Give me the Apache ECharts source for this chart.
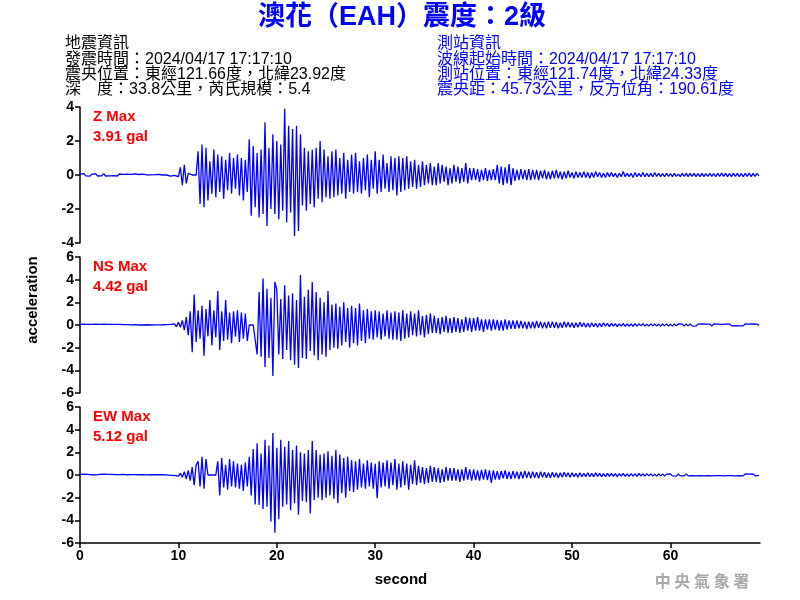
<!DOCTYPE html>
<html>
<head>
<meta charset="utf-8">
<script src="https://cdn.jsdelivr.net/npm/echarts@6/dist/echarts.min.js"></script>
<style>html,body{margin:0;padding:0;background:#fff}#c{width:800px;height:600px}</style>
</head>
<body>
<div id="c"></div>
<script>
// sample spacing (seconds)
const dt = 0.2;
const xTicks = [0, 10, 20, 30, 40, 50, 60];
const zTicks = [-4, -2, 0, 2, 4];
const hTicks = [-6, -4, -2, 0, 2, 4, 6];
const panelNames = ['Z Max', 'NS Max', 'EW Max'];
const panelMax = ['3.91 gal', '4.42 gal', '5.12 gal'];

const zValues = [
0.05,-0.06,0.08,-0.05,0.06,-0.07,0.05,-0.04,0.07,-0.06,
0.05,-0.05,0.08,-0.06,0.04,-0.05,0.06,-0.04,0.05,-0.06,
0.06,-0.05,0.04,-0.06,0.05,-0.03,0.04,-0.05,0.06,-0.04,
0.03,-0.04,0.05,-0.02,0.01,0,0.01,-0.01,0.02,0,
0.04,-0.03,0,0.01,0,0.05,-0.06,0.04,-0.02,0.06,
-0.1,0.45,-0.6,0.6,-0.5,0.1,0,0,0,0,
1.4,-1.7,1.8,-1.9,1.6,-1.5,0.8,-1.1,1.5,-1.3,
1.2,-1.0,1.1,-1.4,0.9,-0.9,1.3,-1.1,1.0,-0.8,
1.2,-1.2,1.0,-1.5,0.9,-1.0,2.1,-2.4,1.7,-1.9,
1.3,-2.5,1.5,-2.3,3.1,-3.0,1.6,-2.0,2.4,-2.3,
2.0,-2.6,1.8,-2.1,3.9,-2.8,2.9,-2.2,2.7,-3.6,
2.9,-3.3,2.4,-1.8,1.6,-2.1,1.4,-1.7,1.5,-1.9,
1.6,-1.4,2.0,-1.6,1.5,-1.3,1.1,-1.4,1.4,-1.3,
1.5,-1.2,1.0,-1.1,1.3,-1.4,0.9,-1.0,1.2,-1.1,
1.3,-1.0,0.8,-1.1,1.0,-0.9,1.2,-1.3,0.9,-0.8,
1.4,-1.1,0.9,-1.0,1.2,-0.8,0.7,-1.0,1.1,-0.9,
1.0,-1.2,1.1,-1.0,1.0,-0.9,1.1,-0.8,0.8,-0.7,
0.9,-0.8,0.6,-0.7,0.8,-0.6,0.6,-0.5,0.7,-0.6,
0.5,-0.6,0.7,-0.5,0.6,-0.4,0.5,-0.6,0.4,-0.5,
0.6,-0.4,0.5,-0.5,0.4,-0.4,0.7,-0.5,0.4,-0.3,
0.4,-0.3,0.35,-0.4,0.3,-0.3,0.4,-0.35,0.3,-0.3,
0.35,-0.3,0.6,-0.5,0.5,-0.6,0.45,-0.5,0.65,-0.6,
0.4,-0.35,0.3,-0.3,0.35,-0.25,0.3,-0.3,0.35,-0.3,
0.3,-0.25,0.3,-0.3,0.25,-0.2,0.3,-0.25,0.2,-0.25,
0.25,-0.2,0.3,-0.2,0.2,-0.25,0.2,-0.2,0.25,-0.15,
0.15,-0.2,0.2,-0.15,0.15,-0.15,0.2,-0.15,0.15,-0.2,
0.15,-0.15,0.2,-0.1,0.15,-0.15,0.1,-0.15,0.15,-0.1,
0.15,-0.1,0.1,-0.15,0.1,-0.1,0.2,-0.1,0.1,-0.1,
0.1,-0.15,0.15,-0.1,0.1,-0.1,0.15,-0.1,0.1,-0.1,
0.1,-0.1,0.15,-0.08,0.1,-0.1,0.08,-0.1,0.1,-0.08,
0.08,-0.1,0.1,-0.08,0.05,-0.1,0.1,-0.08,0.1,-0.1,
0.1,-0.08,0.1,-0.1,0.08,-0.1,0.1,-0.1,0.08,-0.08,
0.1,-0.08,0.08,-0.1,0.1,-0.08,0.12,-0.08,0.1,-0.1,
0.08,-0.1,0.1,-0.08,0.1,-0.1,0.08,-0.1,0.1,-0.08,
0.12,-0.1,0.1,-0.08,0.1,-0.05
];

const nsValues = [
0.06,-0.05,0.08,-0.06,0.05,-0.07,0.06,-0.05,0.07,-0.05,
0.05,-0.06,0.07,-0.05,0.06,-0.04,0.05,-0.06,0.05,-0.05,
0.06,-0.05,0.04,-0.05,0.03,-0.02,0.01,0,0.03,-0.02,
0,0.01,0,0,0.02,-0.01,0,0,0.01,0,
0.01,0,0.02,-0.02,0.04,-0.05,0.06,-0.08,0.1,-0.15,
0.25,-0.2,0.4,-0.45,0.7,-0.9,1.2,-2.4,2.7,-1.5,
1.3,-1.2,1.7,-2.7,1.4,-1.0,2.2,-1.8,1.3,-1.1,
3.0,-2.2,1.2,-1.4,2.2,-1.3,1.1,-1.6,1.2,-1.0,
1.3,-1.5,1.1,-1.2,1.0,-1.4,0,0,0,0,
-2.6,2.9,-2.8,4.1,-3.7,3.2,-2.9,2.4,-4.5,3.8,
3.1,-2.6,2.3,-3.0,3.5,-2.2,2.6,-3.1,2.8,-3.5,
2.2,-3.8,4.4,-2.9,2.5,-3.0,3.1,-2.3,3.8,-2.7,
2.9,-3.1,2.4,-2.6,2.0,-2.8,3.0,-2.2,1.8,-2.0,
1.9,-2.1,1.6,-1.8,2.0,-1.5,1.5,-2.0,1.7,-1.6,
1.5,-1.8,1.9,-1.4,1.3,-1.6,1.4,-1.2,1.2,-1.3,
1.3,-1.1,1.2,-1.3,1.0,-1.0,1.3,-1.2,1.1,-1.3,
1.2,-1.3,1.1,-1.4,1.3,-1.2,1.0,-1.1,1.2,-0.9,
1.0,-1.0,1.3,-0.9,0.8,-1.1,0.9,-0.8,1.0,-0.7,
0.8,-0.7,0.6,-0.8,0.7,-0.6,0.8,-0.7,0.6,-0.7,
0.7,-0.6,0.6,-0.7,0.5,-0.6,0.7,-0.5,0.6,-0.6,
0.6,-0.5,0.7,-0.5,0.5,-0.6,0.5,-0.4,0.5,-0.5,
0.5,-0.4,0.45,-0.5,0.4,-0.5,0.5,-0.4,0.4,-0.35,
0.4,-0.35,0.4,-0.3,0.35,-0.3,0.3,-0.35,0.3,-0.3,
0.3,-0.3,0.35,-0.25,0.3,-0.3,0.25,-0.3,0.3,-0.25,
0.3,-0.25,0.25,-0.3,0.2,-0.25,0.3,-0.2,0.25,-0.2,
0.2,-0.25,0.2,-0.2,0.25,-0.15,0.2,-0.2,0.15,-0.2,
0.2,-0.15,0.15,-0.2,0.15,-0.15,0.2,-0.1,0.15,-0.15,
0.15,-0.1,0.12,-0.15,0.1,-0.1,0.15,-0.12,0.1,-0.1,
0.1,-0.12,0.12,-0.1,0.1,-0.08,0.12,-0.1,0.08,-0.1,
0.1,-0.08,0.1,-0.1,0.08,-0.1,0.1,-0.08,0.1,-0.1,
0.08,-0.1,0.1,-0.08,0.1,-0.06,0.08,-0.1,0.1,-0.08,
0.1,-0.08,0.06,-0.1,0.08,-0.08,0.1,-0.06,0.08,-0.08,
0.08,-0.1,0.1,-0.06,0.08,-0.08,0.06,-0.1,0.08,-0.06,
0.1,-0.08,0.08,-0.06,0.1,-0.08,0.06,-0.08,0.1,-0.06,
0.08,-0.08,0.1,-0.06,0.08,-0.05
];

const ewValues = [
0.06,-0.05,0.07,-0.06,0.05,-0.03,0.02,0,0.01,0,
0.05,-0.06,0.07,-0.05,0.06,-0.05,0.05,-0.06,0.04,-0.05,
0.03,-0.02,0.05,-0.04,0.02,-0.03,0.04,-0.02,0.03,-0.02,
0.02,0,0.04,-0.03,0.01,0,0.02,-0.01,0.03,0,
0.02,-0.01,0.03,-0.02,0.01,0.04,-0.03,0.05,-0.04,0.06,
-0.1,0.15,-0.2,0.3,-0.35,0.4,-0.5,0.7,-0.9,0.9,
1.2,-1.0,1.6,-1.2,1.4,0,0,0,0,0,
1.2,-1.8,1.5,-1.1,0.9,-1.3,1.4,-1.0,1.2,-1.1,
1.0,-1.2,0.9,-1.4,1.1,-1.0,1.6,-1.8,2.3,-2.6,
2.8,-2.65,1.9,-3.0,3.1,-2.8,2.6,-4.1,3.7,-5.1,
2.4,-3.9,3.1,-2.8,2.5,-2.6,3.0,-3.1,2.2,-2.5,
2.6,-3.5,2.0,-2.3,1.9,-2.4,2.2,-3.4,3.0,-2.2,
2.2,-2.0,1.8,-2.2,1.9,-2.0,2.1,-1.8,1.7,-2.1,
2.2,-2.5,1.8,-1.6,1.5,-2.0,1.6,-1.4,1.3,-1.5,
1.2,-1.3,1.4,-1.1,1.0,-1.2,1.3,-1.0,1.1,-1.2,
1.0,-2.05,1.2,-1.1,1.1,-1.0,1.3,-1.2,1.1,-0.9,
1.4,-1.3,1.0,-1.1,1.2,-0.9,1.0,-1.3,0.9,-0.8,
1.3,-0.9,0.8,-0.7,0.7,-0.8,0.6,-0.7,0.8,-0.6,
0.7,-0.6,0.6,-0.7,0.5,-0.6,0.7,-0.5,0.6,-0.5,
0.6,-0.5,0.5,-0.6,0.5,-0.5,0.7,-0.4,0.5,-0.5,
0.5,-0.45,0.4,-0.5,0.45,-0.4,0.5,-0.45,0.4,-0.7,
0.4,-0.4,0.35,-0.4,0.35,-0.3,0.4,-0.35,0.3,-0.35,
0.35,-0.3,0.3,-0.35,0.3,-0.3,0.35,-0.25,0.3,-0.3,
0.3,-0.25,0.25,-0.3,0.3,-0.2,0.25,-0.25,0.2,-0.25,
0.25,-0.2,0.2,-0.25,0.2,-0.2,0.25,-0.15,0.2,-0.2,
0.2,-0.15,0.15,-0.2,0.2,-0.15,0.15,-0.15,0.2,-0.15,
0.15,-0.15,0.2,-0.12,0.15,-0.15,0.12,-0.15,0.15,-0.12,
0.15,-0.12,0.12,-0.15,0.12,-0.1,0.15,-0.12,0.1,-0.12,
0.12,-0.1,0.1,-0.12,0.15,-0.1,0.1,-0.1,0.12,-0.08,
0.1,-0.1,0.08,-0.1,0.1,-0.08,0.1,-0.1,0.08,-0.08,
0.1,-0.08,0.08,-0.1,0.1,-0.08,0.06,-0.08,0.1,-0.08,
0.08,-0.06,0.1,-0.08,0.08,-0.06,0.06,-0.08,0.08,-0.06,
0.06,-0.08,0.08,-0.06,0.1,-0.06,0.06,-0.08,0.08,-0.06,
0.1,-0.06,0.06,-0.08,0.08,-0.06,0.06,-0.08,0.1,-0.06,
0.08,-0.06,0.1,-0.08,0.06,-0.05
];

const infoLeft = ['地震資訊', '發震時間：2024/04/17 17:17:10', '震央位置：東經121.66度，北緯23.92度', '深\u3000度：33.8公里，芮氏規模：5.4'];
const infoRight = ['測站資訊', '波線起始時間：2024/04/17 17:17:10', '測站位置：東經121.74度，北緯24.33度', '震央距：45.73公里，反方位角：190.61度'];

function pairs(vals) { return vals.map((v, i) => [+(i * dt).toFixed(1), v]); }

const chart = echarts.init(document.getElementById('c'), null, { renderer: 'canvas' });
const fontFam = '"Liberation Sans", Arial, sans-serif';
const grids = [
  { left: 80, width: 680, top: 107, height: 136 },
  { left: 80, width: 680, top: 257, height: 136 },
  { left: 80, width: 680, top: 407, height: 136 }
];
const xAxes = grids.map((g, i) => ({
  type: 'value', gridIndex: i, min: 0, max: 69.1,
  show: i === 2,
  axisLine: { show: true, onZero: false, lineStyle: { color: '#000', width: 1.5 } },
  axisTick: { show: true, length: 5, customValues: xTicks, lineStyle: { color: '#000', width: 1.5 } },
  axisLabel: { customValues: xTicks, color: '#000', fontWeight: 'bold', fontSize: 14, fontFamily: fontFam, margin: 6 },
  splitLine: { show: false }
}));
const yRanges = [zTicks, hTicks, hTicks];
const yAxes = grids.map((g, i) => ({
  type: 'value', gridIndex: i,
  min: yRanges[i][0], max: yRanges[i][yRanges[i].length - 1], interval: 2,
  axisLine: { show: true, lineStyle: { color: '#000', width: 1.5 } },
  axisTick: { show: true, length: 5, lineStyle: { color: '#000', width: 1.5 } },
  axisLabel: { color: '#000', fontWeight: 'bold', fontSize: 14, fontFamily: fontFam, margin: 6 },
  splitLine: { show: false }
}));
const seriesVals = [zValues, nsValues, ewValues];
const series = seriesVals.map((vals, i) => ({
  type: 'line', xAxisIndex: i, yAxisIndex: i, data: pairs(vals),
  showSymbol: false, symbol: 'none', sampling: null,
  lineStyle: { color: '#0000ff', width: 1.3 }, animation: false
}));

const cjk = '"Liberation Sans", "Noto Sans CJK TC", sans-serif';
const graphic = [];
graphic.push({ type: 'text', x: 402, y: 18, style: { text: '澳花（EAH）震度：2級', fill: '#0000ff', font: 'bold 27px ' + cjk, align: 'center', verticalAlign: 'middle' } });
infoLeft.forEach((t, k) => graphic.push({ type: 'text', x: 65, y: 44 + k * 15.3, style: { text: t, fill: '#000', font: '16px ' + cjk, verticalAlign: 'middle' } }));
infoRight.forEach((t, k) => graphic.push({ type: 'text', x: 437, y: 44 + k * 15.3, style: { text: t, fill: '#0000ff', font: '16px ' + cjk, verticalAlign: 'middle' } }));
grids.forEach((g, i) => {
  graphic.push({ type: 'text', x: 93, y: g.top + 10, style: { text: panelNames[i], fill: '#ff0000', font: 'bold 15px ' + fontFam, verticalAlign: 'middle' } });
  graphic.push({ type: 'text', x: 93, y: g.top + 30, style: { text: panelMax[i], fill: '#ff0000', font: 'bold 15px ' + fontFam, verticalAlign: 'middle' } });
});
graphic.push({ type: 'text', x: 33, y: 300, rotation: Math.PI / 2, style: { text: 'acceleration', fill: '#000', font: 'bold 15px ' + fontFam, align: 'center', verticalAlign: 'middle' } });
graphic.push({ type: 'text', x: 401, y: 580, style: { text: 'second', fill: '#000', font: 'bold 15px ' + fontFam, align: 'center', verticalAlign: 'middle' } });
graphic.push({ type: 'text', x: 702, y: 581, style: { text: '中 央 氣 象 署', fill: '#a8a8a8', font: 'bold 16px "Noto Sans CJK TC", sans-serif', align: 'center', verticalAlign: 'middle' } });

chart.setOption({
  animation: false,
  backgroundColor: '#fff',
  grid: grids, xAxis: xAxes, yAxis: yAxes, series: series, graphic: graphic
});
</script>
</body>
</html>
